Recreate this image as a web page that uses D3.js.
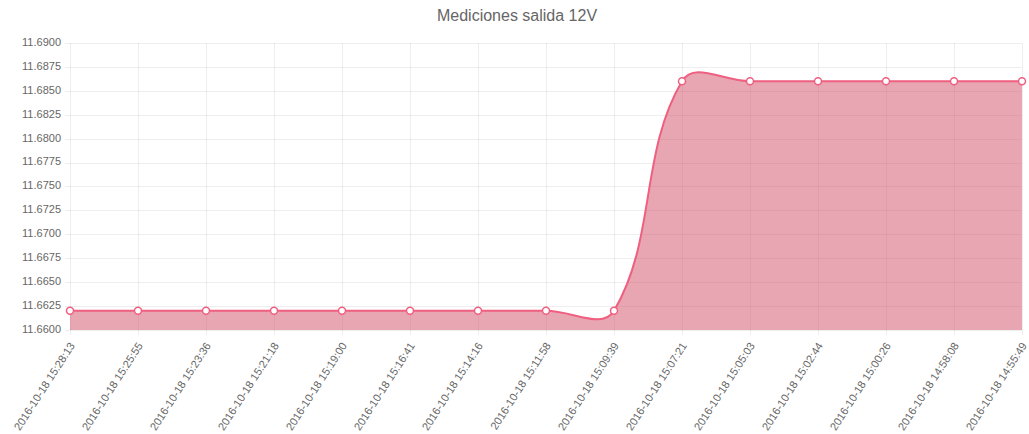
<!DOCTYPE html>
<html>
<head>
<meta charset="utf-8">
<script src="https://cdn.jsdelivr.net/npm/d3@7"></script>
<style>
  html, body { margin: 0; padding: 0; background: #fff; }
  svg { display: block; font-family: "Liberation Sans", Arial, Helvetica, sans-serif; }
</style>
</head>
<body>
<svg id="chart" width="1029" height="434"></svg>
<script>
// Measurement timestamps (newest first) and the 12V output readings
const timestamps = [
  "2016-10-18 15:28:13", "2016-10-18 15:25:55", "2016-10-18 15:23:36",
  "2016-10-18 15:21:18", "2016-10-18 15:19:00", "2016-10-18 15:16:41",
  "2016-10-18 15:14:16", "2016-10-18 15:11:58", "2016-10-18 15:09:39",
  "2016-10-18 15:07:21", "2016-10-18 15:05:03", "2016-10-18 15:02:44",
  "2016-10-18 15:00:26", "2016-10-18 14:58:08", "2016-10-18 14:55:49"
];
const voltages = [
  11.662, 11.662, 11.662, 11.662, 11.662, 11.662, 11.662, 11.662, 11.662,
  11.686, 11.686, 11.686, 11.686, 11.686, 11.686
];
const yTicks = [
  11.66, 11.6625, 11.665, 11.6675, 11.67, 11.6725, 11.675,
  11.6775, 11.68, 11.6825, 11.685, 11.6875, 11.69
];
const titleText = "Mediciones salida 12V";

const W = 1029, H = 434;
const plot = { left: 70, right: 1022, top: 43, bottom: 330 };

const svg = d3.select("#chart");

const x = d3.scalePoint()
  .domain(timestamps)
  .range([plot.left, plot.right]);

const y = d3.scaleLinear()
  .domain([yTicks[0], yTicks[yTicks.length - 1]])
  .range([plot.bottom, plot.top]);

// Tension-based cubic spline (control points weighted by segment length),
// with control points kept inside the plotting area.
function tensionSpline(context) {
  const t = 0.4;
  const clampX = v => Math.max(plot.left, Math.min(plot.right, v));
  const clampY = v => Math.max(plot.top, Math.min(plot.bottom, v));
  return {
    _line: NaN,
    areaStart() { this._line = 0; },
    areaEnd() { this._line = NaN; },
    lineStart() { this._pts = []; },
    point(px, py) { this._pts.push([+px, +py]); },
    lineEnd() {
      const p = this._pts, n = p.length;
      if (n) {
        const cps = p.map((cur, i) => {
          const prev = i > 0 ? p[i - 1] : cur;
          const next = i < n - 1 ? p[i + 1] : cur;
          const d01 = Math.hypot(cur[0] - prev[0], cur[1] - prev[1]);
          const d12 = Math.hypot(next[0] - cur[0], next[1] - cur[1]);
          let s01 = d01 / (d01 + d12), s12 = d12 / (d01 + d12);
          if (!isFinite(s01)) s01 = 0;
          if (!isFinite(s12)) s12 = 0;
          const fa = t * s01, fb = t * s12;
          const dx = next[0] - prev[0], dy = next[1] - prev[1];
          return {
            inX: clampX(cur[0] - fa * dx), inY: clampY(cur[1] - fa * dy),
            outX: clampX(cur[0] + fb * dx), outY: clampY(cur[1] + fb * dy)
          };
        });
        if (this._line) context.lineTo(p[0][0], p[0][1]);
        else context.moveTo(p[0][0], p[0][1]);
        for (let i = 1; i < n; i++) {
          context.bezierCurveTo(cps[i - 1].outX, cps[i - 1].outY,
                                cps[i].inX, cps[i].inY, p[i][0], p[i][1]);
        }
      }
      if (this._line || (this._line !== 0 && n === 1)) context.closePath();
      this._line = 1 - this._line;
    }
  };
}

const gridColor = "rgba(0,0,0,0.065)";
const textColor = "#666";

// Title
svg.append("text")
  .attr("x", 517)
  .attr("y", 17)
  .attr("text-anchor", "middle")
  .attr("dominant-baseline", "middle")
  .attr("fill", textColor)
  .attr("font-size", 16)
  .text(titleText);

// Horizontal grid lines with short tick marks
svg.append("g").selectAll("line")
  .data(yTicks)
  .join("line")
  .attr("x1", plot.left - 5)
  .attr("x2", plot.right)
  .attr("y1", d => Math.round(y(d)) + 0.5)
  .attr("y2", d => Math.round(y(d)) + 0.5)
  .attr("stroke", gridColor)
  .attr("stroke-width", 1);

// Y tick labels
svg.append("g").selectAll("text")
  .data(yTicks)
  .join("text")
  .attr("x", plot.left - 9)
  .attr("y", d => y(d))
  .attr("text-anchor", "end")
  .attr("dominant-baseline", "middle")
  .attr("fill", textColor)
  .attr("font-size", 11)
  .text(d => d3.format(".4f")(d));

// Vertical grid lines with short tick marks
svg.append("g").selectAll("line")
  .data(timestamps)
  .join("line")
  .attr("x1", d => Math.round(x(d)) + 0.5)
  .attr("x2", d => Math.round(x(d)) + 0.5)
  .attr("y1", plot.top)
  .attr("y2", plot.bottom + 5)
  .attr("stroke", gridColor)
  .attr("stroke-width", 1);

// Rotated X tick labels
svg.append("g").selectAll("text")
  .data(timestamps)
  .join("text")
  .attr("transform", d => `translate(${x(d) + 3},${plot.bottom + 14}) rotate(-57)`)
  .attr("text-anchor", "end")
  .attr("dominant-baseline", "middle")
  .attr("fill", textColor)
  .attr("font-size", 11)
  .text(d => d);

const series = timestamps.map((ts, i) => ({ ts, v: voltages[i] }));

// Filled area under the curve
const area = d3.area()
  .x(d => x(d.ts))
  .y0(y(yTicks[0]))
  .y1(d => y(d.v))
  .curve(tensionSpline);

svg.append("path")
  .datum(series)
  .attr("d", area)
  .attr("fill", "rgba(209,77,101,0.5)");

// Line
const line = d3.line()
  .x(d => x(d.ts))
  .y(d => y(d.v))
  .curve(tensionSpline);

svg.append("path")
  .datum(series)
  .attr("d", line)
  .attr("fill", "none")
  .attr("stroke", "#ef5f80")
  .attr("stroke-width", 2);

// Point markers
svg.append("g").selectAll("circle")
  .data(series)
  .join("circle")
  .attr("cx", d => x(d.ts))
  .attr("cy", d => y(d.v))
  .attr("r", 3.5)
  .attr("fill", "#fff")
  .attr("stroke", "#ef5f80")
  .attr("stroke-width", 1.5);
</script>
</body>
</html>
